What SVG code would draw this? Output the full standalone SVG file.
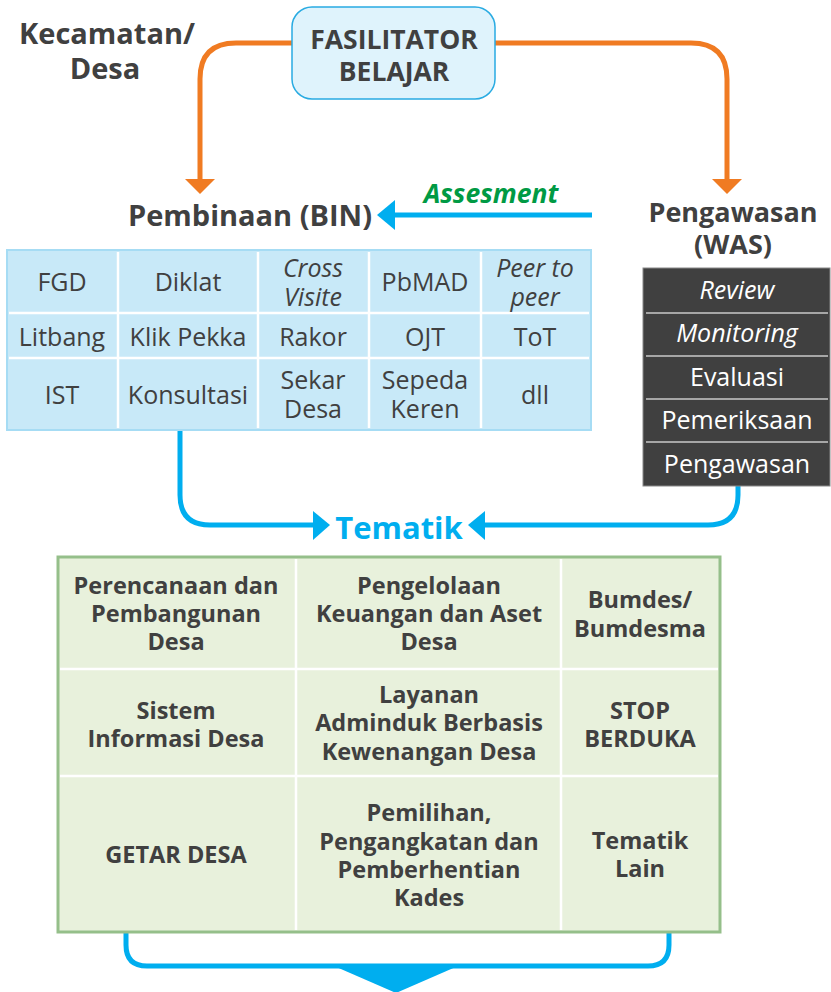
<svg xmlns="http://www.w3.org/2000/svg" width="831" height="992" viewBox="0 0 831 992">
<style>
text{font-family:"Open Sans","DejaVu Sans",sans-serif;fill:#404040;text-anchor:middle}
.b{font-weight:700}
.h{font-size:29px;font-weight:700}
.c{font-size:25px}
.i{font-style:italic}
.w{fill:#fff;font-size:25px}
.t{font-size:23.5px;font-weight:700}
.or{fill:none;stroke:#f07b22;stroke-width:5}
.bl{fill:none;stroke:#00aeef;stroke-width:5}
</style>
<rect width="831" height="992" fill="#fff"/>
<g id="connectors">
<path class="or" d="M292 43 H236 Q200 43 200 79 V182"/>
<polygon points="185,179 215,179 200,194" fill="#f07b22"/>
<path class="or" d="M495 43 H691 Q727 43 727 79 V182"/>
<polygon points="712,179 742,179 727,194" fill="#f07b22"/>
<path class="bl" d="M592 215 H390"/>
<polygon points="395,200 395,230 377,215" fill="#00aeef"/>
<path class="bl" d="M180 430 V495 Q180 525 210 525 H318"/>
<polygon points="313,511 313,540 330,525" fill="#00aeef"/>
<path class="bl" d="M738 486 V495 Q738 525 708 525 H480"/>
<polygon points="485,511 485,540 468,525" fill="#00aeef"/>
<path class="bl" d="M126 932 V945 Q126 966 147 966 H648 Q669 966 669 945 V932"/>
<polygon points="334,966 458,966 396,993" fill="#00aeef"/>
</g>
<g id="kecamatan">
<text class="h" x="107" y="44">Kecamatan/</text>
<text class="h" x="105" y="79">Desa</text>
</g>
<g id="fasilitator">
<rect x="292" y="7" width="203" height="92" rx="20" fill="#dff3fc" stroke="#29abe2" stroke-width="1.5"/>
<text class="b" style="font-size:26.5px" x="394" y="49">FASILITATOR</text>
<text class="b" style="font-size:26.5px" x="394" y="81">BELAJAR</text>
</g>
<g id="assesment">
<text class="b i" style="font-size:26.5px;fill:#009a44" x="491" y="203">Assesment</text>
</g>
<g id="bin">
<text class="h" x="250" y="226">Pembinaan (BIN)</text>
<rect x="7" y="250" width="584" height="180" fill="#c8e9f8" stroke="#a6dcf4" stroke-width="2"/>
<g stroke="#fff" stroke-width="2.5">
<line x1="118" y1="252" x2="118" y2="428"/>
<line x1="258" y1="252" x2="258" y2="428"/>
<line x1="369" y1="252" x2="369" y2="428"/>
<line x1="481" y1="252" x2="481" y2="428"/>
<line x1="9" y1="313" x2="589" y2="313"/>
<line x1="9" y1="358" x2="589" y2="358"/>
</g>
<text class="c" x="62" y="291">FGD</text>
<text class="c" x="188" y="291">Diklat</text>
<text class="c i" x="313" y="277">Cross</text>
<text class="c i" x="313" y="306">Visite</text>
<text class="c" x="425" y="291">PbMAD</text>
<text class="c i" x="535" y="277">Peer to</text>
<text class="c i" x="535" y="306">peer</text>
<text class="c" x="62" y="346">Litbang</text>
<text class="c" x="188" y="346">Klik Pekka</text>
<text class="c" x="313" y="346">Rakor</text>
<text class="c" x="425" y="346">OJT</text>
<text class="c" x="535" y="346">ToT</text>
<text class="c" x="62" y="404">IST</text>
<text class="c" x="188" y="404">Konsultasi</text>
<text class="c" x="313" y="389">Sekar</text>
<text class="c" x="313" y="418">Desa</text>
<text class="c" x="425" y="389">Sepeda</text>
<text class="c" x="425" y="418">Keren</text>
<text class="c" x="535" y="404">dll</text>
</g>
<g id="was">
<text class="h" style="font-size:27px" x="733" y="222">Pengawasan</text>
<text class="h" style="font-size:27px" x="733" y="254">(WAS)</text>
<rect x="643" y="268" width="187" height="218" fill="#404040" stroke="#888" stroke-width="1"/>
<g stroke="#c8c8c8" stroke-width="1.5">
<line x1="646" y1="313" x2="828" y2="313"/>
<line x1="646" y1="356" x2="828" y2="356"/>
<line x1="646" y1="399" x2="828" y2="399"/>
<line x1="646" y1="442" x2="828" y2="442"/>
</g>
<text class="w i" x="737" y="299">Review</text>
<text class="w i" x="737" y="342">Monitoring</text>
<text class="w" x="737" y="386">Evaluasi</text>
<text class="w" x="737" y="429">Pemeriksaan</text>
<text class="w" x="737" y="473">Pengawasan</text>
</g>
<g id="tematik-label">
<text class="b" style="font-size:31px;fill:#00aeef" x="399" y="539">Tematik</text>
</g>
<g id="tematik">
<rect x="58" y="557" width="662" height="375" fill="#e8f1dc" stroke="#95bf8a" stroke-width="3"/>
<g stroke="#fff" stroke-width="2.5">
<line x1="296" y1="559" x2="296" y2="930"/>
<line x1="561" y1="559" x2="561" y2="930"/>
<line x1="60" y1="669" x2="718" y2="669"/>
<line x1="60" y1="776" x2="718" y2="776"/>
</g>
<text class="t" x="176" y="594">Perencanaan dan</text>
<text class="t" x="176" y="622">Pembangunan</text>
<text class="t" x="176" y="650">Desa</text>
<text class="t" x="429" y="594">Pengelolaan</text>
<text class="t" x="429" y="622">Keuangan dan Aset</text>
<text class="t" x="429" y="650">Desa</text>
<text class="t" x="640" y="608">Bumdes/</text>
<text class="t" x="640" y="637">Bumdesma</text>
<text class="t" x="176" y="719">Sistem</text>
<text class="t" x="176" y="747">Informasi Desa</text>
<text class="t" x="429" y="703">Layanan</text>
<text class="t" x="429" y="731">Adminduk Berbasis</text>
<text class="t" x="429" y="760">Kewenangan Desa</text>
<text class="t" x="640" y="719">STOP</text>
<text class="t" x="640" y="747">BERDUKA</text>
<text class="t" x="176" y="863">GETAR DESA</text>
<text class="t" x="429" y="821">Pemilihan,</text>
<text class="t" x="429" y="850">Pengangkatan dan</text>
<text class="t" x="429" y="878">Pemberhentian</text>
<text class="t" x="429" y="906">Kades</text>
<text class="t" x="640" y="849">Tematik</text>
<text class="t" x="640" y="877">Lain</text>
</g>
</svg>
